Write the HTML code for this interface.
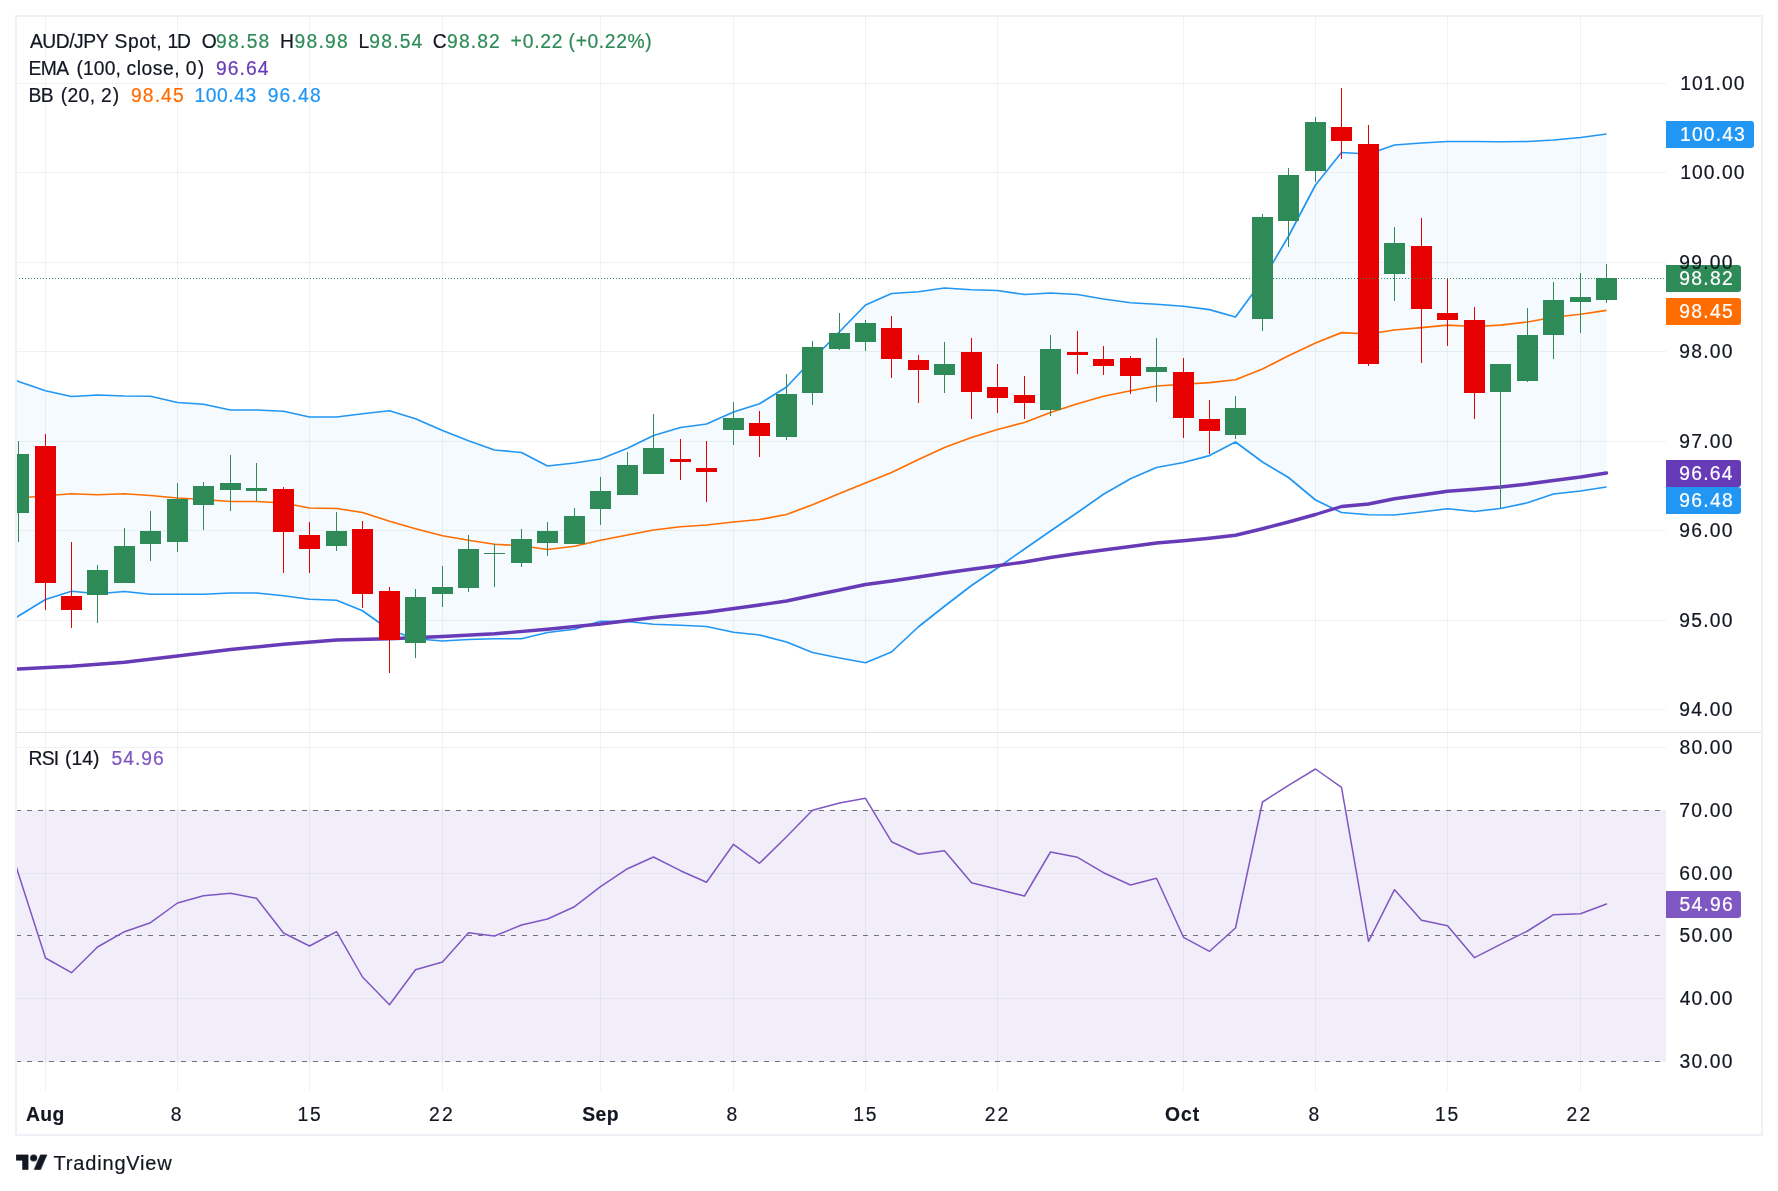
<!DOCTYPE html>
<html><head><meta charset="utf-8"><title>AUD/JPY</title>
<style>html,body{margin:0;padding:0;background:#fff;}body{width:1778px;height:1191px;overflow:hidden;}svg{display:block;font-family:'Liberation Sans',sans-serif;will-change:transform;}text{font-family:"Liberation Sans",sans-serif;}</style></head><body>
<svg width="1778" height="1191" viewBox="0 0 1778 1191">
<rect x="0" y="0" width="1778" height="1191" fill="#ffffff"/>
<defs><clipPath id="cp"><rect x="17" y="17" width="1649" height="715"/></clipPath><clipPath id="cr"><rect x="17" y="733" width="1649" height="358"/></clipPath></defs>
<rect x="45" y="17" width="1" height="1074" fill="#3c5046" fill-opacity="0.07"/>
<rect x="177" y="17" width="1" height="1074" fill="#3c5046" fill-opacity="0.07"/>
<rect x="309" y="17" width="1" height="1074" fill="#3c5046" fill-opacity="0.07"/>
<rect x="442" y="17" width="1" height="1074" fill="#3c5046" fill-opacity="0.07"/>
<rect x="600" y="17" width="1" height="1074" fill="#3c5046" fill-opacity="0.07"/>
<rect x="733" y="17" width="1" height="1074" fill="#3c5046" fill-opacity="0.07"/>
<rect x="865" y="17" width="1" height="1074" fill="#3c5046" fill-opacity="0.07"/>
<rect x="997" y="17" width="1" height="1074" fill="#3c5046" fill-opacity="0.07"/>
<rect x="1183" y="17" width="1" height="1074" fill="#3c5046" fill-opacity="0.07"/>
<rect x="1315" y="17" width="1" height="1074" fill="#3c5046" fill-opacity="0.07"/>
<rect x="1447" y="17" width="1" height="1074" fill="#3c5046" fill-opacity="0.07"/>
<rect x="1580" y="17" width="1" height="1074" fill="#3c5046" fill-opacity="0.07"/>
<rect x="17" y="83" width="1649" height="1" fill="#3c5046" fill-opacity="0.07"/>
<rect x="17" y="172" width="1649" height="1" fill="#3c5046" fill-opacity="0.07"/>
<rect x="17" y="262" width="1649" height="1" fill="#3c5046" fill-opacity="0.07"/>
<rect x="17" y="351" width="1649" height="1" fill="#3c5046" fill-opacity="0.07"/>
<rect x="17" y="441" width="1649" height="1" fill="#3c5046" fill-opacity="0.07"/>
<rect x="17" y="530" width="1649" height="1" fill="#3c5046" fill-opacity="0.07"/>
<rect x="17" y="620" width="1649" height="1" fill="#3c5046" fill-opacity="0.07"/>
<rect x="17" y="709" width="1649" height="1" fill="#3c5046" fill-opacity="0.07"/>
<rect x="17" y="747" width="1649" height="1" fill="#3c5046" fill-opacity="0.07"/>
<rect x="17" y="873" width="1649" height="1" fill="#3c5046" fill-opacity="0.07"/>
<rect x="17" y="998" width="1649" height="1" fill="#3c5046" fill-opacity="0.07"/>
<g clip-path="url(#cp)">
<polygon points="-7.50,372.00 18.50,381.50 45.50,390.75 71.50,396.50 97.50,395.00 124.50,396.00 150.50,396.25 177.50,402.50 203.50,404.25 230.50,410.00 256.50,410.00 283.50,411.25 309.50,417.00 336.50,417.00 362.50,413.75 389.50,410.75 415.50,418.75 442.50,430.50 468.50,440.75 494.50,450.00 521.50,452.50 547.50,466.00 574.50,463.00 600.50,459.00 627.50,448.25 653.50,435.50 680.50,427.50 706.50,424.00 733.50,412.00 759.50,403.75 786.50,387.00 812.50,359.50 839.50,331.75 865.50,305.00 891.50,293.50 918.50,291.75 944.50,288.00 971.50,289.75 997.50,290.50 1024.50,294.50 1050.50,293.00 1077.50,294.50 1103.50,299.00 1130.50,302.75 1156.50,304.25 1183.50,306.25 1209.50,309.60 1235.50,317.00 1262.50,280.25 1288.50,236.25 1315.50,185.00 1341.50,152.50 1368.50,154.00 1394.50,145.00 1421.50,143.00 1447.50,141.50 1474.50,141.50 1500.50,141.75 1527.50,141.50 1553.50,140.00 1580.50,137.50 1606.50,134.00 1606.50,487.00 1580.50,491.00 1553.50,494.00 1527.50,502.75 1500.50,508.50 1474.50,511.50 1447.50,508.75 1421.50,512.00 1394.50,515.00 1368.50,514.75 1341.50,512.50 1315.50,500.00 1288.50,477.50 1262.50,462.00 1235.50,442.00 1209.50,455.60 1183.50,462.50 1156.50,467.50 1130.50,478.75 1103.50,494.25 1077.50,512.50 1050.50,531.00 1024.50,549.00 997.50,568.00 971.50,585.50 944.50,606.25 918.50,626.75 891.50,652.00 865.50,662.75 839.50,658.00 812.50,652.50 786.50,642.00 759.50,635.00 733.50,632.25 706.50,626.50 680.50,625.25 653.50,624.25 627.50,621.50 600.50,621.25 574.50,629.25 547.50,632.50 521.50,638.75 494.50,638.75 468.50,639.50 442.50,641.00 415.50,638.75 389.50,630.00 362.50,610.75 336.50,600.25 309.50,599.25 283.50,595.75 256.50,593.00 230.50,593.00 203.50,594.25 177.50,594.25 150.50,594.25 124.50,591.50 97.50,593.75 71.50,591.25 45.50,599.50 18.50,616.00 -7.50,632.00" fill="#2196f3" fill-opacity="0.05"/>
<polyline points="-7.50,499.50 18.50,498.00 45.50,495.75 71.50,493.75 97.50,494.75 124.50,493.75 150.50,495.50 177.50,498.00 203.50,499.50 230.50,501.50 256.50,501.50 283.50,503.00 309.50,508.00 336.50,508.50 362.50,512.50 389.50,521.25 415.50,528.75 442.50,535.75 468.50,540.25 494.50,544.25 521.50,545.75 547.50,549.50 574.50,546.25 600.50,540.25 627.50,535.00 653.50,530.00 680.50,526.75 706.50,525.00 733.50,522.00 759.50,519.50 786.50,514.50 812.50,504.75 839.50,493.50 865.50,483.00 891.50,472.50 918.50,459.50 944.50,447.50 971.50,437.50 997.50,429.50 1024.50,422.50 1050.50,412.50 1077.50,403.75 1103.50,396.25 1130.50,390.75 1156.50,386.00 1183.50,384.25 1209.50,382.60 1235.50,379.75 1262.50,369.00 1288.50,355.75 1315.50,343.00 1341.50,332.60 1368.50,334.00 1394.50,330.00 1421.50,327.60 1447.50,325.10 1474.50,326.50 1500.50,325.10 1527.50,322.00 1553.50,317.25 1580.50,314.25 1606.50,310.40" fill="none" stroke="#ff6d00" stroke-width="1.7" stroke-linejoin="round"/>
<polyline points="-7.50,372.00 18.50,381.50 45.50,390.75 71.50,396.50 97.50,395.00 124.50,396.00 150.50,396.25 177.50,402.50 203.50,404.25 230.50,410.00 256.50,410.00 283.50,411.25 309.50,417.00 336.50,417.00 362.50,413.75 389.50,410.75 415.50,418.75 442.50,430.50 468.50,440.75 494.50,450.00 521.50,452.50 547.50,466.00 574.50,463.00 600.50,459.00 627.50,448.25 653.50,435.50 680.50,427.50 706.50,424.00 733.50,412.00 759.50,403.75 786.50,387.00 812.50,359.50 839.50,331.75 865.50,305.00 891.50,293.50 918.50,291.75 944.50,288.00 971.50,289.75 997.50,290.50 1024.50,294.50 1050.50,293.00 1077.50,294.50 1103.50,299.00 1130.50,302.75 1156.50,304.25 1183.50,306.25 1209.50,309.60 1235.50,317.00 1262.50,280.25 1288.50,236.25 1315.50,185.00 1341.50,152.50 1368.50,154.00 1394.50,145.00 1421.50,143.00 1447.50,141.50 1474.50,141.50 1500.50,141.75 1527.50,141.50 1553.50,140.00 1580.50,137.50 1606.50,134.00" fill="none" stroke="#2196f3" stroke-width="1.7" stroke-linejoin="round"/>
<polyline points="-7.50,632.00 18.50,616.00 45.50,599.50 71.50,591.25 97.50,593.75 124.50,591.50 150.50,594.25 177.50,594.25 203.50,594.25 230.50,593.00 256.50,593.00 283.50,595.75 309.50,599.25 336.50,600.25 362.50,610.75 389.50,630.00 415.50,638.75 442.50,641.00 468.50,639.50 494.50,638.75 521.50,638.75 547.50,632.50 574.50,629.25 600.50,621.25 627.50,621.50 653.50,624.25 680.50,625.25 706.50,626.50 733.50,632.25 759.50,635.00 786.50,642.00 812.50,652.50 839.50,658.00 865.50,662.75 891.50,652.00 918.50,626.75 944.50,606.25 971.50,585.50 997.50,568.00 1024.50,549.00 1050.50,531.00 1077.50,512.50 1103.50,494.25 1130.50,478.75 1156.50,467.50 1183.50,462.50 1209.50,455.60 1235.50,442.00 1262.50,462.00 1288.50,477.50 1315.50,500.00 1341.50,512.50 1368.50,514.75 1394.50,515.00 1421.50,512.00 1447.50,508.75 1474.50,511.50 1500.50,508.50 1527.50,502.75 1553.50,494.00 1580.50,491.00 1606.50,487.00" fill="none" stroke="#2196f3" stroke-width="1.7" stroke-linejoin="round"/>
<polyline points="-7.50,670.30 18.50,669.00 71.50,666.25 124.50,662.25 177.50,656.00 230.50,649.50 283.50,644.25 336.50,640.00 389.50,638.75 442.50,636.50 494.50,633.75 547.50,629.25 600.50,624.00 653.50,617.50 706.50,612.25 759.50,605.00 786.50,601.00 812.50,595.50 839.50,590.00 865.50,584.50 891.50,581.00 918.50,577.00 944.50,573.00 971.50,569.25 997.50,565.75 1024.50,562.00 1050.50,557.50 1077.50,553.50 1103.50,550.00 1130.50,546.50 1156.50,543.00 1183.50,540.75 1209.50,538.25 1235.50,535.25 1262.50,528.75 1288.50,522.00 1315.50,514.50 1341.50,506.50 1368.50,504.00 1394.50,498.75 1421.50,495.00 1447.50,491.25 1474.50,489.25 1500.50,487.00 1527.50,484.00 1553.50,480.50 1580.50,477.00 1606.50,473.00" fill="none" stroke="#673ab7" stroke-width="3.4" stroke-linejoin="round" stroke-linecap="round"/>
<rect x="18" y="441" width="1" height="101" fill="#2e8b57"/>
<rect x="8" y="454" width="21" height="59" fill="#2e8b57"/>
<rect x="45" y="434" width="1" height="176" fill="#e60000"/>
<rect x="35" y="446" width="21" height="137" fill="#e60000"/>
<rect x="71" y="542" width="1" height="86" fill="#e60000"/>
<rect x="61" y="596" width="21" height="14" fill="#e60000"/>
<rect x="97" y="565" width="1" height="58" fill="#2e8b57"/>
<rect x="87" y="570" width="21" height="25" fill="#2e8b57"/>
<rect x="124" y="528" width="1" height="55" fill="#2e8b57"/>
<rect x="114" y="546" width="21" height="37" fill="#2e8b57"/>
<rect x="150" y="511" width="1" height="50" fill="#2e8b57"/>
<rect x="140" y="531" width="21" height="13" fill="#2e8b57"/>
<rect x="177" y="483" width="1" height="69" fill="#2e8b57"/>
<rect x="167" y="499" width="21" height="43" fill="#2e8b57"/>
<rect x="203" y="482" width="1" height="48" fill="#2e8b57"/>
<rect x="193" y="486" width="21" height="19" fill="#2e8b57"/>
<rect x="230" y="455" width="1" height="56" fill="#2e8b57"/>
<rect x="220" y="483" width="21" height="7" fill="#2e8b57"/>
<rect x="256" y="463" width="1" height="38" fill="#2e8b57"/>
<rect x="246" y="488" width="21" height="3" fill="#2e8b57"/>
<rect x="283" y="487" width="1" height="86" fill="#e60000"/>
<rect x="273" y="489" width="21" height="43" fill="#e60000"/>
<rect x="309" y="522" width="1" height="51" fill="#e60000"/>
<rect x="299" y="535" width="21" height="14" fill="#e60000"/>
<rect x="336" y="512" width="1" height="39" fill="#2e8b57"/>
<rect x="326" y="531" width="21" height="15" fill="#2e8b57"/>
<rect x="362" y="521" width="1" height="87" fill="#e60000"/>
<rect x="352" y="529" width="21" height="65" fill="#e60000"/>
<rect x="389" y="587" width="1" height="86" fill="#e60000"/>
<rect x="379" y="591" width="21" height="49" fill="#e60000"/>
<rect x="415" y="589" width="1" height="69" fill="#2e8b57"/>
<rect x="405" y="597" width="21" height="46" fill="#2e8b57"/>
<rect x="442" y="566" width="1" height="41" fill="#2e8b57"/>
<rect x="432" y="587" width="21" height="7" fill="#2e8b57"/>
<rect x="468" y="535" width="1" height="57" fill="#2e8b57"/>
<rect x="458" y="549" width="21" height="39" fill="#2e8b57"/>
<rect x="494" y="544" width="1" height="43" fill="#2e8b57"/>
<rect x="484" y="553" width="21" height="1" fill="#2e8b57"/>
<rect x="521" y="529" width="1" height="38" fill="#2e8b57"/>
<rect x="511" y="539" width="21" height="24" fill="#2e8b57"/>
<rect x="547" y="522" width="1" height="34" fill="#2e8b57"/>
<rect x="537" y="531" width="21" height="12" fill="#2e8b57"/>
<rect x="574" y="508" width="1" height="36" fill="#2e8b57"/>
<rect x="564" y="516" width="21" height="28" fill="#2e8b57"/>
<rect x="600" y="477" width="1" height="48" fill="#2e8b57"/>
<rect x="590" y="491" width="21" height="18" fill="#2e8b57"/>
<rect x="627" y="452" width="1" height="43" fill="#2e8b57"/>
<rect x="617" y="465" width="21" height="30" fill="#2e8b57"/>
<rect x="653" y="414" width="1" height="60" fill="#2e8b57"/>
<rect x="643" y="448" width="21" height="26" fill="#2e8b57"/>
<rect x="680" y="439" width="1" height="41" fill="#e60000"/>
<rect x="670" y="459" width="21" height="3" fill="#e60000"/>
<rect x="706" y="441" width="1" height="61" fill="#e60000"/>
<rect x="696" y="468" width="21" height="4" fill="#e60000"/>
<rect x="733" y="402" width="1" height="43" fill="#2e8b57"/>
<rect x="723" y="418" width="21" height="12" fill="#2e8b57"/>
<rect x="759" y="411" width="1" height="46" fill="#e60000"/>
<rect x="749" y="423" width="21" height="13" fill="#e60000"/>
<rect x="786" y="374" width="1" height="66" fill="#2e8b57"/>
<rect x="776" y="394" width="21" height="43" fill="#2e8b57"/>
<rect x="812" y="341" width="1" height="64" fill="#2e8b57"/>
<rect x="802" y="347" width="21" height="46" fill="#2e8b57"/>
<rect x="839" y="313" width="1" height="37" fill="#2e8b57"/>
<rect x="829" y="333" width="21" height="16" fill="#2e8b57"/>
<rect x="865" y="320" width="1" height="31" fill="#2e8b57"/>
<rect x="855" y="323" width="21" height="19" fill="#2e8b57"/>
<rect x="891" y="316" width="1" height="62" fill="#e60000"/>
<rect x="881" y="328" width="21" height="31" fill="#e60000"/>
<rect x="918" y="355" width="1" height="48" fill="#e60000"/>
<rect x="908" y="360" width="21" height="10" fill="#e60000"/>
<rect x="944" y="342" width="1" height="51" fill="#2e8b57"/>
<rect x="934" y="364" width="21" height="11" fill="#2e8b57"/>
<rect x="971" y="338" width="1" height="81" fill="#e60000"/>
<rect x="961" y="352" width="21" height="40" fill="#e60000"/>
<rect x="997" y="364" width="1" height="49" fill="#e60000"/>
<rect x="987" y="387" width="21" height="11" fill="#e60000"/>
<rect x="1024" y="376" width="1" height="43" fill="#e60000"/>
<rect x="1014" y="395" width="21" height="8" fill="#e60000"/>
<rect x="1050" y="335" width="1" height="81" fill="#2e8b57"/>
<rect x="1040" y="349" width="21" height="61" fill="#2e8b57"/>
<rect x="1077" y="331" width="1" height="43" fill="#e60000"/>
<rect x="1067" y="352" width="21" height="3" fill="#e60000"/>
<rect x="1103" y="346" width="1" height="29" fill="#e60000"/>
<rect x="1093" y="359" width="21" height="7" fill="#e60000"/>
<rect x="1130" y="356" width="1" height="38" fill="#e60000"/>
<rect x="1120" y="358" width="21" height="18" fill="#e60000"/>
<rect x="1156" y="338" width="1" height="64" fill="#2e8b57"/>
<rect x="1146" y="367" width="21" height="5" fill="#2e8b57"/>
<rect x="1183" y="358" width="1" height="80" fill="#e60000"/>
<rect x="1173" y="372" width="21" height="46" fill="#e60000"/>
<rect x="1209" y="400" width="1" height="54" fill="#e60000"/>
<rect x="1199" y="419" width="21" height="12" fill="#e60000"/>
<rect x="1235" y="396" width="1" height="43" fill="#2e8b57"/>
<rect x="1225" y="408" width="21" height="27" fill="#2e8b57"/>
<rect x="1262" y="214" width="1" height="117" fill="#2e8b57"/>
<rect x="1252" y="217" width="21" height="102" fill="#2e8b57"/>
<rect x="1288" y="168" width="1" height="79" fill="#2e8b57"/>
<rect x="1278" y="175" width="21" height="46" fill="#2e8b57"/>
<rect x="1315" y="117" width="1" height="65" fill="#2e8b57"/>
<rect x="1305" y="122" width="21" height="49" fill="#2e8b57"/>
<rect x="1341" y="88" width="1" height="71" fill="#e60000"/>
<rect x="1331" y="127" width="21" height="14" fill="#e60000"/>
<rect x="1368" y="125" width="1" height="241" fill="#e60000"/>
<rect x="1358" y="144" width="21" height="220" fill="#e60000"/>
<rect x="1394" y="227" width="1" height="74" fill="#2e8b57"/>
<rect x="1384" y="243" width="21" height="31" fill="#2e8b57"/>
<rect x="1421" y="218" width="1" height="145" fill="#e60000"/>
<rect x="1411" y="246" width="21" height="63" fill="#e60000"/>
<rect x="1447" y="278" width="1" height="68" fill="#e60000"/>
<rect x="1437" y="313" width="21" height="7" fill="#e60000"/>
<rect x="1474" y="307" width="1" height="112" fill="#e60000"/>
<rect x="1464" y="320" width="21" height="73" fill="#e60000"/>
<rect x="1500" y="364" width="1" height="144" fill="#2e8b57"/>
<rect x="1490" y="364" width="21" height="28" fill="#2e8b57"/>
<rect x="1527" y="308" width="1" height="74" fill="#2e8b57"/>
<rect x="1517" y="335" width="21" height="46" fill="#2e8b57"/>
<rect x="1553" y="282" width="1" height="77" fill="#2e8b57"/>
<rect x="1543" y="300" width="21" height="35" fill="#2e8b57"/>
<rect x="1580" y="273" width="1" height="60" fill="#2e8b57"/>
<rect x="1570" y="297" width="21" height="5" fill="#2e8b57"/>
<rect x="1606" y="264" width="1" height="39" fill="#2e8b57"/>
<rect x="1596" y="278" width="21" height="22" fill="#2e8b57"/>
<line x1="17" y1="278.5" x2="1666" y2="278.5" stroke="#2e8b57" stroke-width="1" stroke-dasharray="1 2" stroke-dashoffset="1"/>
</g>
<rect x="17" y="810" width="1649" height="252" fill="#7e57c2" fill-opacity="0.1"/>
<line x1="17" y1="810.5" x2="1666" y2="810.5" stroke="#6f727d" stroke-width="1" stroke-dasharray="5 6" stroke-dashoffset="1"/>
<line x1="17" y1="935.5" x2="1666" y2="935.5" stroke="#6f727d" stroke-width="1" stroke-dasharray="5 6" stroke-dashoffset="1"/>
<line x1="17" y1="1061.5" x2="1666" y2="1061.5" stroke="#6f727d" stroke-width="1" stroke-dasharray="5 6" stroke-dashoffset="1"/>
<g clip-path="url(#cr)">
<polyline points="-7.50,790.00 18.50,874.00 45.50,958.00 71.50,972.70 97.50,947.00 124.50,931.70 150.50,922.70 177.50,903.00 203.50,895.70 230.50,893.30 256.50,898.30 283.50,933.00 309.50,946.00 336.50,931.70 362.50,977.00 389.50,1004.70 415.50,969.70 442.50,962.00 468.50,932.70 494.50,936.00 521.50,925.00 547.50,919.00 574.50,906.70 600.50,886.70 627.50,868.70 653.50,857.00 680.50,870.70 706.50,882.30 733.50,844.30 759.50,863.30 786.50,836.70 812.50,810.30 839.50,803.00 865.50,798.30 891.50,841.70 918.50,854.30 944.50,850.70 971.50,882.70 997.50,889.30 1024.50,896.00 1050.50,852.00 1077.50,857.30 1103.50,872.70 1130.50,885.00 1156.50,878.30 1183.50,937.30 1209.50,951.30 1235.50,928.00 1262.50,802.00 1288.50,785.30 1315.50,769.00 1341.50,787.30 1368.50,941.30 1394.50,889.70 1421.50,920.30 1447.50,925.70 1474.50,957.70 1500.50,944.30 1527.50,931.00 1553.50,914.70 1580.50,913.70 1606.50,904.00" fill="none" stroke="#7e57c2" stroke-width="1.5" stroke-linejoin="round" stroke-linecap="round"/>
</g>
<rect x="17" y="732" width="1744" height="1" fill="#e0e3eb"/>
<rect x="16" y="16" width="1746" height="1119" fill="none" stroke="#eff1f7" stroke-width="2"/>
<path d="M1666,121.0 H1751 Q1754,121.0 1754,124.0 V145.0 Q1754,148.0 1751,148.0 H1666 Z" fill="#2196f3"/>
<path d="M1666,265.0 H1738 Q1741,265.0 1741,268.0 V289.0 Q1741,292.0 1738,292.0 H1666 Z" fill="#2e8b57"/>
<path d="M1666,298.0 H1738 Q1741,298.0 1741,301.0 V322.0 Q1741,325.0 1738,325.0 H1666 Z" fill="#ff6d00"/>
<path d="M1666,460.0 H1738 Q1741,460.0 1741,463.0 V484.0 Q1741,487.0 1738,487.0 H1666 Z" fill="#673ab7"/>
<path d="M1666,487.0 H1738 Q1741,487.0 1741,490.0 V511.0 Q1741,514.0 1738,514.0 H1666 Z" fill="#2196f3"/>
<path d="M1666,891.0 H1738 Q1741,891.0 1741,894.0 V915.0 Q1741,918.0 1738,918.0 H1666 Z" fill="#7e57c2"/>
<text x="29.9" y="47.9" font-size="19.3" font-weight="normal" fill="#131722" stroke="#131722" stroke-width="0.2" letter-spacing="-0.467">AUD/JPY</text>
<text x="114.6" y="47.9" font-size="19.3" font-weight="normal" fill="#131722" stroke="#131722" stroke-width="0.2" letter-spacing="0.495">Spot,</text>
<text x="167.39" y="47.9" font-size="19.3" font-weight="normal" fill="#131722" stroke="#131722" stroke-width="0.2" letter-spacing="-1.196">1D</text>
<text x="201.7" y="47.9" font-size="19.3" font-weight="normal" fill="#131722" stroke="#131722" stroke-width="0.2" letter-spacing="0">O</text>
<text x="216.1" y="47.9" font-size="19.3" font-weight="normal" fill="#2e8b57" stroke="#2e8b57" stroke-width="0.2" letter-spacing="1.247">98.58</text>
<text x="280.09" y="47.9" font-size="19.3" font-weight="normal" fill="#131722" stroke="#131722" stroke-width="0.2" letter-spacing="0">H</text>
<text x="294.5" y="47.9" font-size="19.3" font-weight="normal" fill="#2e8b57" stroke="#2e8b57" stroke-width="0.2" letter-spacing="1.247">98.98</text>
<text x="358.59" y="47.9" font-size="19.3" font-weight="normal" fill="#131722" stroke="#131722" stroke-width="0.2" letter-spacing="0">L</text>
<text x="369.3" y="47.9" font-size="19.3" font-weight="normal" fill="#2e8b57" stroke="#2e8b57" stroke-width="0.2" letter-spacing="1.197">98.54</text>
<text x="432.8" y="47.9" font-size="19.3" font-weight="normal" fill="#131722" stroke="#131722" stroke-width="0.2" letter-spacing="0">C</text>
<text x="447.1" y="47.9" font-size="19.3" font-weight="normal" fill="#2e8b57" stroke="#2e8b57" stroke-width="0.2" letter-spacing="1.122">98.82</text>
<text x="510.6" y="47.9" font-size="19.3" font-weight="normal" fill="#2e8b57" stroke="#2e8b57" stroke-width="0.2" letter-spacing="0.788">+0.22</text>
<text x="568.6" y="47.9" font-size="19.3" font-weight="normal" fill="#2e8b57" stroke="#2e8b57" stroke-width="0.2" letter-spacing="0.622">(+0.22%)</text>
<text x="28.39" y="74.7" font-size="19.3" font-weight="normal" fill="#131722" stroke="#131722" stroke-width="0.2" letter-spacing="-0.505">EMA</text>
<text x="76.5" y="74.7" font-size="19.3" font-weight="normal" fill="#131722" stroke="#131722" stroke-width="0.2" letter-spacing="0.089">(100,</text>
<text x="126.5" y="74.7" font-size="19.3" font-weight="normal" fill="#131722" stroke="#131722" stroke-width="0.2" letter-spacing="0.565">close,</text>
<text x="185.8" y="74.7" font-size="19.3" font-weight="normal" fill="#131722" stroke="#131722" stroke-width="0.2" letter-spacing="1.241">0)</text>
<text x="216.1" y="74.7" font-size="19.3" font-weight="normal" fill="#673ab7" stroke="#673ab7" stroke-width="0.2" letter-spacing="1.022">96.64</text>
<text x="28.39" y="101.5" font-size="19.3" font-weight="normal" fill="#131722" stroke="#131722" stroke-width="0.2" letter-spacing="-0.428">BB</text>
<text x="60.8" y="101.5" font-size="19.3" font-weight="normal" fill="#131722" stroke="#131722" stroke-width="0.2" letter-spacing="0.33">(20,</text>
<text x="101.0" y="101.5" font-size="19.3" font-weight="normal" fill="#131722" stroke="#131722" stroke-width="0.2" letter-spacing="0.943">2)</text>
<text x="131.0" y="101.5" font-size="19.3" font-weight="normal" fill="#ff6d00" stroke="#ff6d00" stroke-width="0.2" letter-spacing="1.097">98.45</text>
<text x="194.39" y="101.5" font-size="19.3" font-weight="normal" fill="#2196f3" stroke="#2196f3" stroke-width="0.2" letter-spacing="0.592">100.43</text>
<text x="267.7" y="101.5" font-size="19.3" font-weight="normal" fill="#2196f3" stroke="#2196f3" stroke-width="0.2" letter-spacing="1.172">96.48</text>
<text x="28.49" y="764.7" font-size="19.3" font-weight="normal" fill="#131722" stroke="#131722" stroke-width="0.2" letter-spacing="-0.711">RSI</text>
<text x="65.0" y="764.7" font-size="19.3" font-weight="normal" fill="#131722" stroke="#131722" stroke-width="0.2" letter-spacing="0.027">(14)</text>
<text x="111.4" y="764.7" font-size="19.3" font-weight="normal" fill="#7e57c2" stroke="#7e57c2" stroke-width="0.2" letter-spacing="1.022">54.96</text>
<text x="1680.29" y="90.2" font-size="19.3" font-weight="normal" fill="#131722" stroke="#131722" stroke-width="0.2" letter-spacing="1.031">101.00</text>
<text x="1680.29" y="179.2" font-size="19.3" font-weight="normal" fill="#131722" stroke="#131722" stroke-width="0.2" letter-spacing="1.031">100.00</text>
<text x="1679.2" y="269.2" font-size="19.3" font-weight="normal" fill="#131722" stroke="#131722" stroke-width="0.2" letter-spacing="1.247">99.00</text>
<text x="1679.2" y="358.2" font-size="19.3" font-weight="normal" fill="#131722" stroke="#131722" stroke-width="0.2" letter-spacing="1.247">98.00</text>
<text x="1679.2" y="448.2" font-size="19.3" font-weight="normal" fill="#131722" stroke="#131722" stroke-width="0.2" letter-spacing="1.247">97.00</text>
<text x="1679.2" y="537.2" font-size="19.3" font-weight="normal" fill="#131722" stroke="#131722" stroke-width="0.2" letter-spacing="1.247">96.00</text>
<text x="1679.2" y="627.2" font-size="19.3" font-weight="normal" fill="#131722" stroke="#131722" stroke-width="0.2" letter-spacing="1.247">95.00</text>
<text x="1679.2" y="716.2" font-size="19.3" font-weight="normal" fill="#131722" stroke="#131722" stroke-width="0.2" letter-spacing="1.247">94.00</text>
<text x="1679.5" y="754.2" font-size="19.3" font-weight="normal" fill="#131722" stroke="#131722" stroke-width="0.2" letter-spacing="1.172">80.00</text>
<text x="1679.2" y="817.2" font-size="19.3" font-weight="normal" fill="#131722" stroke="#131722" stroke-width="0.2" letter-spacing="1.247">70.00</text>
<text x="1679.2" y="880.2" font-size="19.3" font-weight="normal" fill="#131722" stroke="#131722" stroke-width="0.2" letter-spacing="1.247">60.00</text>
<text x="1679.5" y="942.2" font-size="19.3" font-weight="normal" fill="#131722" stroke="#131722" stroke-width="0.2" letter-spacing="1.172">50.00</text>
<text x="1679.8" y="1005.2" font-size="19.3" font-weight="normal" fill="#131722" stroke="#131722" stroke-width="0.2" letter-spacing="1.096">40.00</text>
<text x="1679.5" y="1068.2" font-size="19.3" font-weight="normal" fill="#131722" stroke="#131722" stroke-width="0.2" letter-spacing="1.172">30.00</text>
<text x="1680.09" y="141.2" font-size="19.3" font-weight="normal" fill="#ffffff" stroke="#ffffff" stroke-width="0.2" letter-spacing="1.132">100.43</text>
<text x="1679.2" y="285.2" font-size="19.3" font-weight="normal" fill="#ffffff" stroke="#ffffff" stroke-width="0.2" letter-spacing="1.322">98.82</text>
<text x="1679.2" y="318.2" font-size="19.3" font-weight="normal" fill="#ffffff" stroke="#ffffff" stroke-width="0.2" letter-spacing="1.322">98.45</text>
<text x="1679.2" y="480.2" font-size="19.3" font-weight="normal" fill="#ffffff" stroke="#ffffff" stroke-width="0.2" letter-spacing="1.247">96.64</text>
<text x="1679.2" y="507.2" font-size="19.3" font-weight="normal" fill="#ffffff" stroke="#ffffff" stroke-width="0.2" letter-spacing="1.322">96.48</text>
<text x="1679.5" y="911.2" font-size="19.3" font-weight="normal" fill="#ffffff" stroke="#ffffff" stroke-width="0.2" letter-spacing="1.247">54.96</text>
<text x="25.95" y="1120.9" font-size="19.3" font-weight="bold" fill="#131722" stroke="#131722" stroke-width="0.2" letter-spacing="0.385">Aug</text>
<text x="170.65" y="1120.9" font-size="19.3" font-weight="normal" fill="#131722" stroke="#131722" stroke-width="0.2" letter-spacing="0">8</text>
<text x="297.54" y="1120.9" font-size="19.3" font-weight="normal" fill="#131722" stroke="#131722" stroke-width="0.2" letter-spacing="1.771">15</text>
<text x="429.1" y="1120.9" font-size="19.3" font-weight="normal" fill="#131722" stroke="#131722" stroke-width="0.2" letter-spacing="2.219">22</text>
<text x="582.2" y="1120.9" font-size="19.3" font-weight="bold" fill="#131722" stroke="#131722" stroke-width="0.2" letter-spacing="0.519">Sep</text>
<text x="726.4" y="1120.9" font-size="19.3" font-weight="normal" fill="#131722" stroke="#131722" stroke-width="0.2" letter-spacing="0">8</text>
<text x="853.29" y="1120.9" font-size="19.3" font-weight="normal" fill="#131722" stroke="#131722" stroke-width="0.2" letter-spacing="1.771">15</text>
<text x="984.85" y="1120.9" font-size="19.3" font-weight="normal" fill="#131722" stroke="#131722" stroke-width="0.2" letter-spacing="1.969">22</text>
<text x="1164.9" y="1120.9" font-size="19.3" font-weight="bold" fill="#131722" stroke="#131722" stroke-width="0.2" letter-spacing="1.012">Oct</text>
<text x="1308.4" y="1120.9" font-size="19.3" font-weight="normal" fill="#131722" stroke="#131722" stroke-width="0.2" letter-spacing="0">8</text>
<text x="1435.04" y="1120.9" font-size="19.3" font-weight="normal" fill="#131722" stroke="#131722" stroke-width="0.2" letter-spacing="1.771">15</text>
<text x="1566.6" y="1120.9" font-size="19.3" font-weight="normal" fill="#131722" stroke="#131722" stroke-width="0.2" letter-spacing="2.219">22</text>
<svg x="16.1" y="1154.6" width="31.64" height="15.2" viewBox="0 4 36 18" preserveAspectRatio="none"><path fill="#131722" d="M14 22H7V11H0V4h14v18z M28 22h-8l7.5-18h8L28 22z"/><circle cx="20" cy="8" r="4" fill="#131722"/></svg>
<text x="53.59" y="1170.3" font-size="20" fill="#131722" stroke="#131722" stroke-width="0.2" letter-spacing="0.811">TradingView</text>
</svg></body></html>
